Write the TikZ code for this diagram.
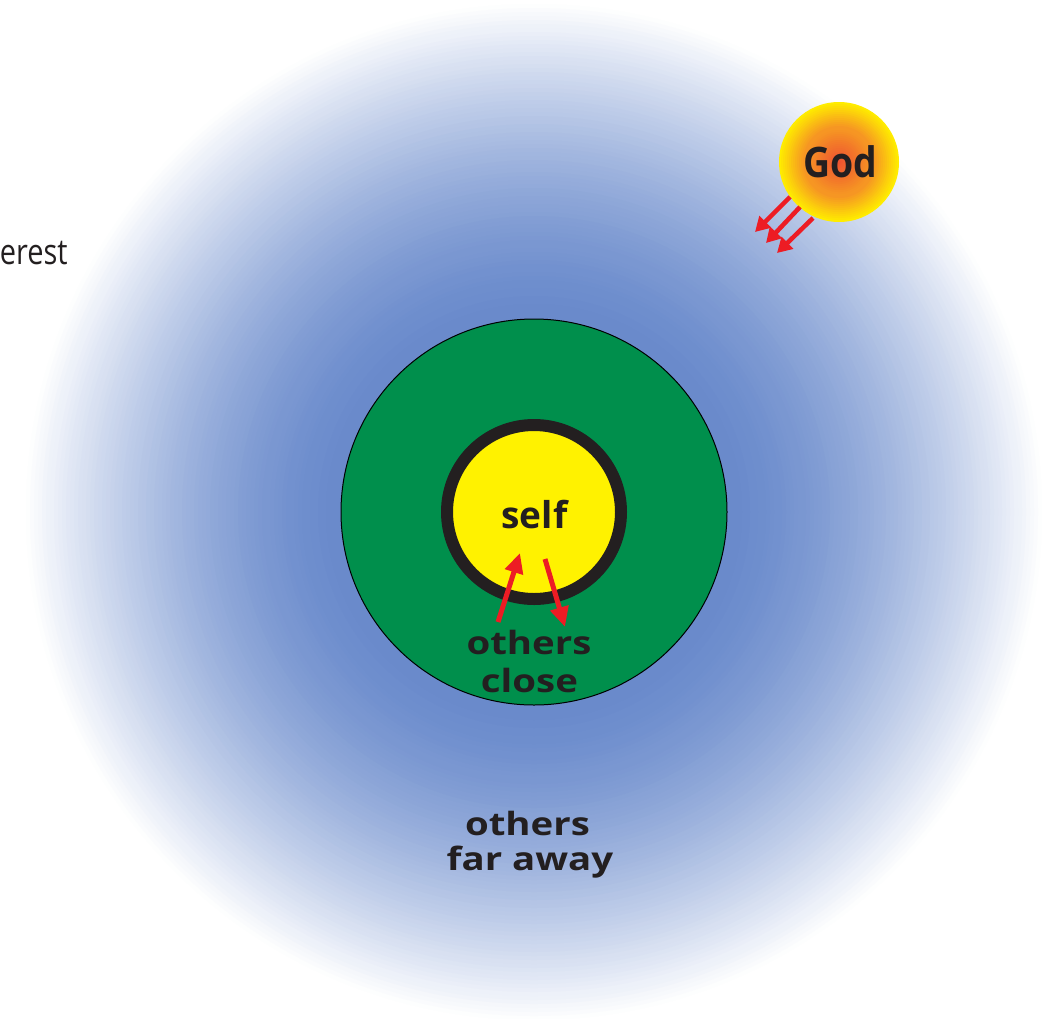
\documentclass[tikz,border=0pt]{standalone}
\usepackage{fontspec}
\setmainfont{Open Sans}
\usetikzlibrary{arrows.meta}
\definecolor{txt}{RGB}{35,31,32}
\definecolor{grn}{RGB}{0,143,76}
\definecolor{yel}{RGB}{255,242,0}
\definecolor{arrred}{RGB}{237,28,36}
\definecolor{haloblue}{RGB}{104,137,203}
\definecolor{godred}{RGB}{238,80,50}
\definecolor{godorange}{RGB}{246,150,35}
\definecolor{godyel}{RGB}{255,236,0}
\tikzset{
  lbl/.style={text=txt, inner sep=0pt, anchor=base, font=\bfseries\fontsize{24}{28}\selectfont},
  godarrow/.style={draw=arrred, line width=3.4pt, -{Triangle[width=12pt,length=11pt]}},
  selfarrow/.style={draw=arrred, line width=3.75pt, -{Triangle[width=13.5pt,length=15pt]}},
}
\begin{document}
\begin{tikzpicture}[x=0.75pt,y=-0.75pt]
\useasboundingbox (0,0) rectangle (1042,1018);
\node (halo) [circle, minimum size=768pt, inner sep=0pt] at (534,512) {};
\foreach \r in {512,508,...,196} {
  \pgfmathsetmacro\t{max(0,(\r-195)/317)}
  \pgfmathtruncatemacro\p{100*(1-\t^1.5)}
  \fill[haloblue!\p!white] (halo.center) circle[radius=\r*0.75pt];
}
\node (close) [circle, minimum size=289.5pt, inner sep=0pt, draw=black, line width=0.75pt, fill=grn] at (534,512) {};
\node (selfring) [circle, minimum size=130.5pt, inner sep=0pt, draw=txt, line width=9pt, fill=yel] at (534,512) {};
\node (god) [circle, minimum size=90pt, inner sep=0pt] at (839,162) {};
\foreach \r in {60,58,...,2} {
  \pgfmathsetmacro\t{\r/60}
  \pgfmathtruncatemacro\pa{min(100,180*\t)}
  \pgfmathtruncatemacro\pb{max(0,250*\t-150)}
  \colorlet{gtmp}{godorange!\pa!godred}
  \fill[godyel!\pb!gtmp] (god.center) circle[radius=\r*0.75pt];
}

\node (selftxt) [lbl, font=\bfseries\fontsize{27.75}{30}\selectfont] at (534.5,528) {self};
\node (oc1) [lbl] at (529,654) {\scalebox{1.2}[1]{others}};
\node (oc2) [lbl] at (529.5,692) {\scalebox{1.2}[1]{close}};
\node (of1) [lbl] at (527.5,835) {\scalebox{1.2}[1]{others}};
\node (of2) [lbl] at (530,870) {\scalebox{1.2}[1]{far away}};
\node (godtxt) [lbl, font=\bfseries\fontsize{31.5}{34}\selectfont] at (840.5,177) {\scalebox{0.89}[1]{God}};
\node (interest) [text=txt, inner sep=0pt, anchor=base east, font=\fontsize{26.5}{30}\selectfont] at (68,264) {\scalebox{0.82}[1]{erest}};

\coordinate (g1a) at (790,197); \coordinate (g1b) at (755,232);
\coordinate (g2a) at (800,207); \coordinate (g2b) at (766,243);
\coordinate (g3a) at (813,218); \coordinate (g3b) at (777,253);
\draw[godarrow] (g1a) -- (g1b);
\draw[godarrow] (g2a) -- (g2b);
\draw[godarrow] (g3a) -- (g3b);

\coordinate (upa) at (498,622); \coordinate (upb) at (520,553);
\coordinate (dna) at (545,559); \coordinate (dnb) at (565,627);
\draw[selfarrow] (upa) -- (upb);
\draw[selfarrow] (dna) -- (dnb);
\end{tikzpicture}
\end{document}
